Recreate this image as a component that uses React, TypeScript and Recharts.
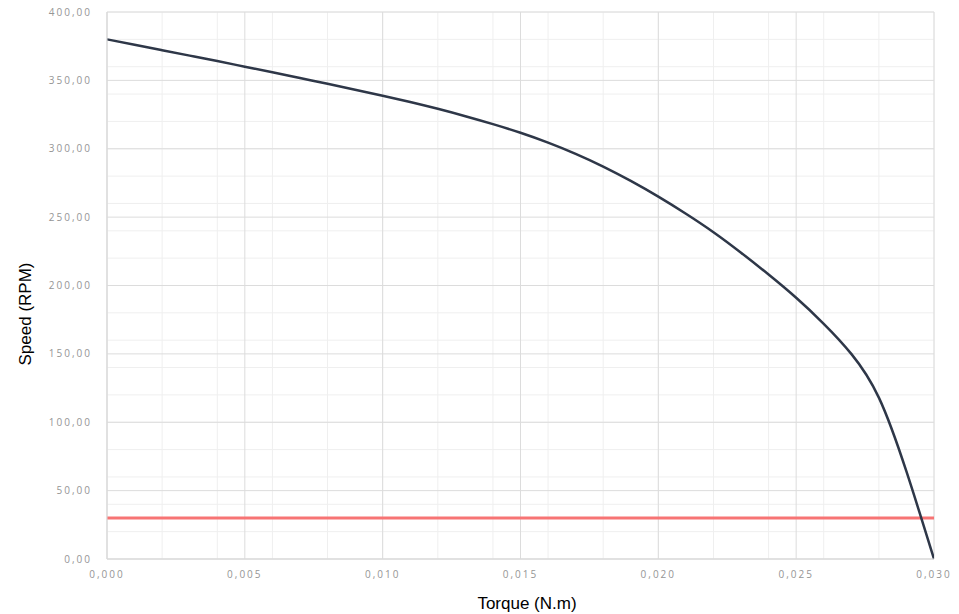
import React from 'react'
import { CartesianGrid, Label, Line, LineChart, XAxis, YAxis } from 'recharts'

// torque (N.m) and speed (RPM)
const torque = [
    0, 0.001, 0.002, 0.003, 0.004, 0.005, 0.006, 0.007, 0.008, 0.009, 0.01,
    0.011, 0.012, 0.013, 0.014, 0.015, 0.016, 0.017, 0.018, 0.019, 0.02,
    0.021, 0.022, 0.023, 0.024, 0.025, 0.026, 0.027, 0.028, 0.029, 0.03,
]
const speed = [
    380, 376.1, 372.1, 368.1, 364.1, 360, 355.9, 351.7, 347.5, 343.2, 338.8,
    334.2, 329.2, 323.8, 318, 311.7, 304.5, 296.3, 287, 276.5, 265,
    252.5, 239, 224, 208, 191, 172, 150, 118, 64, 0,
]

// minimum speed line
const limitTorque = [0, 0.03]
const limitSpeed = [30, 30]

const xTicks = [0, 0.005, 0.01, 0.015, 0.02, 0.025, 0.03]
const yTicks = [0, 50, 100, 150, 200, 250, 300, 350, 400]

const xMinor = Array.from({ length: 31 }, (_, i) => i / 1000)
const yMinor = Array.from({ length: 41 }, (_, i) => i * 10)

const curveData = torque.map((t, i) => ({ torque: t, speed: speed[i] }))
const limitData = limitTorque.map((t, i) => ({ torque: t, limit: limitSpeed[i] }))

const comma = (digits: number) => (v: number) => v.toFixed(digits).replace('.', ',')

const tickStyle = { fontFamily: 'Open Sans', fontSize: 10, fill: '#959595', letterSpacing: 2 }

const App = () => {
    return (
        <div style={{ position: 'absolute', left: 0, top: 0 }}>
            <LineChart width={959} height={614} margin={{ top: 12, right: 25, left: 0, bottom: 0 }}>
                <CartesianGrid
                    stroke='#efefef'
                    horizontalValues={yMinor}
                    verticalValues={xMinor}
                />
                <CartesianGrid
                    stroke='#dcdcdc'
                    horizontalValues={yTicks}
                    verticalValues={xTicks}
                />
                <XAxis
                    type='number'
                    dataKey='torque'
                    domain={[0, 0.03]}
                    ticks={xTicks}
                    tickFormatter={comma(3)}
                    tick={tickStyle}
                    tickLine={false}
                    tickMargin={6}
                    axisLine={{ stroke: '#d9d9d9' }}
                    height={55}
                    allowDataOverflow
                >
                    <Label
                        content={() => (
                            <text x={527} y={609} textAnchor='middle' fontFamily='Liberation Sans, Arial' fontSize={17} fill='#000'>
                                Torque (N.m)
                            </text>
                        )}
                    />
                </XAxis>
                <YAxis
                    type='number'
                    domain={[0, 400]}
                    ticks={yTicks}
                    tickFormatter={comma(2)}
                    tick={tickStyle}
                    tickLine={false}
                    tickMargin={9}
                    axisLine={{ stroke: '#d9d9d9' }}
                    width={107}
                >
                    <Label
                        content={() => (
                            <text
                                transform='translate(25,314) rotate(-90)'
                                textAnchor='middle'
                                dominantBaseline='central'
                                fontFamily='Liberation Sans, Arial'
                                fontSize={17}
                                fill='#000'
                            >
                                Speed (RPM)
                            </text>
                        )}
                    />
                </YAxis>
                <Line
                    data={limitData}
                    dataKey='limit'
                    stroke='#f77474'
                    strokeWidth={3}
                    dot={false}
                    activeDot={false}
                    isAnimationActive={false}
                />
                <Line
                    data={curveData}
                    dataKey='speed'
                    type='natural'
                    stroke='#2e3748'
                    strokeWidth={2.5}
                    dot={false}
                    activeDot={false}
                    isAnimationActive={false}
                />
            </LineChart>
        </div>
    )
}

export default App
